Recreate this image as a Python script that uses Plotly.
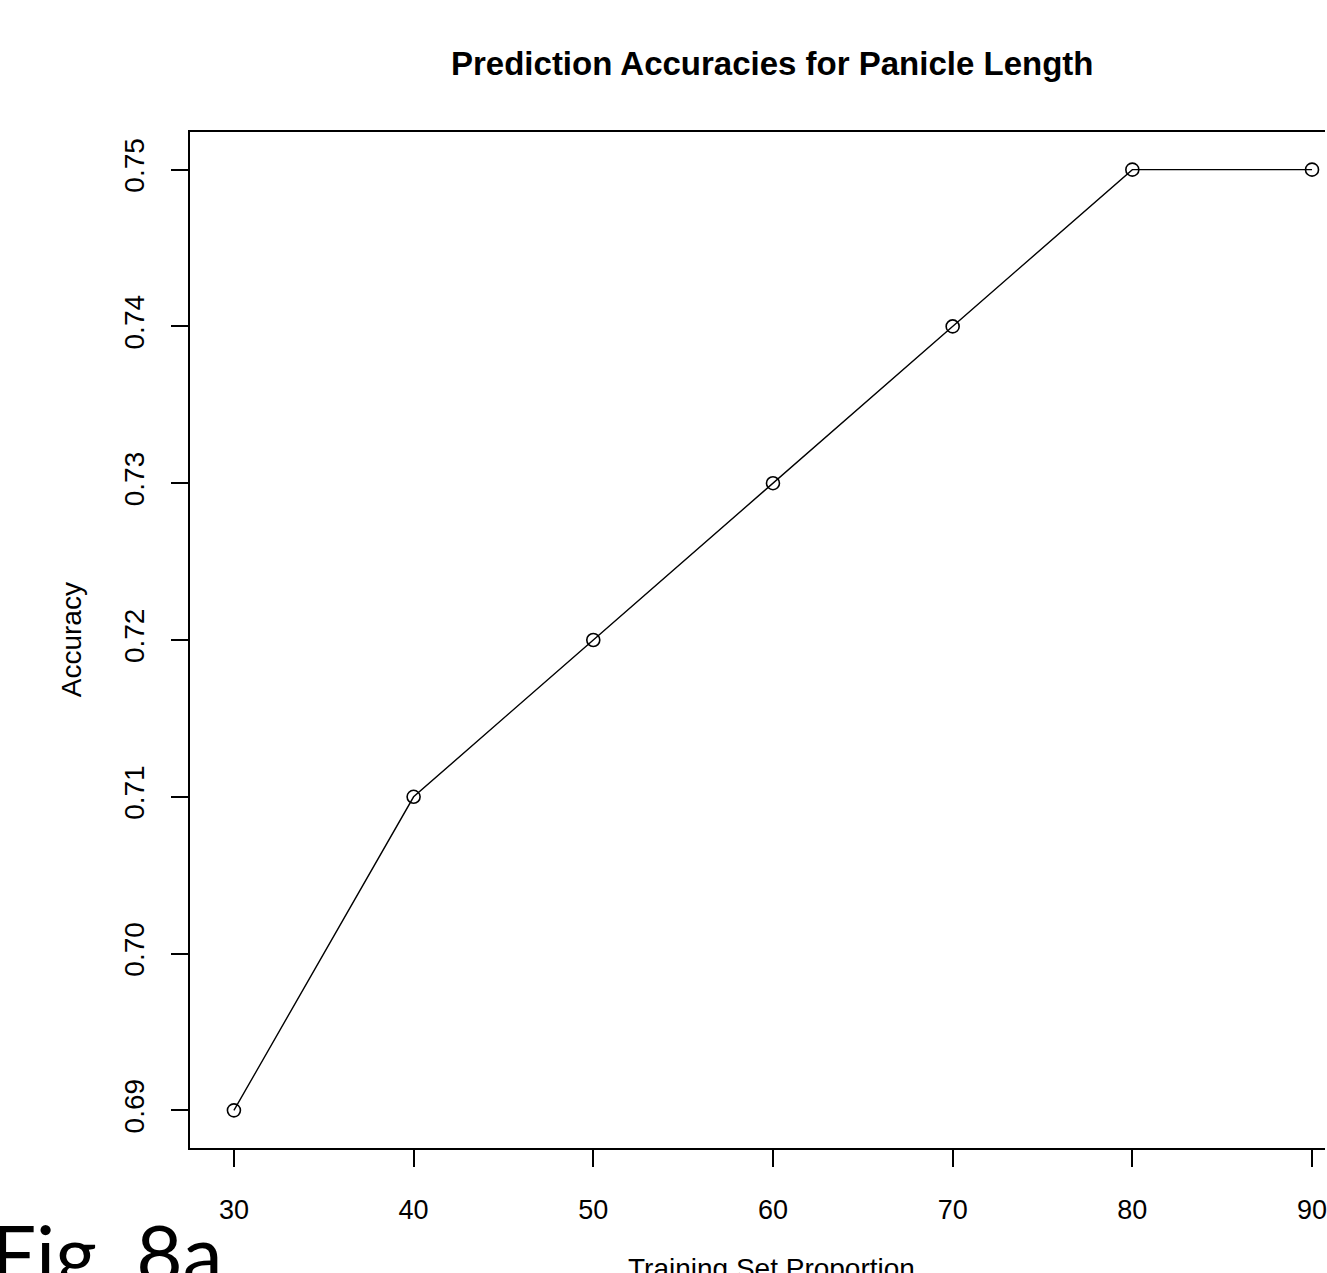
import plotly.graph_objects as go

training_proportion = [30, 40, 50, 60, 70, 80, 90]
accuracy = [0.69, 0.71, 0.72, 0.73, 0.74, 0.75, 0.75]
x_ticks = [30, 40, 50, 60, 70, 80, 90]
y_ticks = [0.69, 0.70, 0.71, 0.72, 0.73, 0.74, 0.75]
y_tick_text = ["0.69", "0.70", "0.71", "0.72", "0.73", "0.74", "0.75"]

W, H = 1327, 1273
L, R, T, B = 190, 0, 132, 125
pw, ph = W - L - R, H - T - B

def px_x(p):
    return (p - L) / pw

def px_y(p):
    return (H - B - p) / ph

FONT = "Liberation Sans, Arial, Helvetica, sans-serif"

fig = go.Figure()
fig.add_trace(go.Scatter(
    x=training_proportion, y=accuracy, mode="lines+markers",
    line=dict(color="black", width=1.4),
    marker=dict(symbol="circle-open", size=13, color="black", line=dict(width=1.6, color="black")),
    showlegend=False,
))

fig.update_layout(
    width=W, height=H,
    margin=dict(l=L, r=R, t=T, b=B, pad=0),
    paper_bgcolor="white", plot_bgcolor="white",
    font=dict(family=FONT, color="black"),
    xaxis=dict(
        range=[30 - 44 / 18, 90 + 13 / 18], tickmode="array", tickvals=x_ticks,
        ticks="outside", ticklen=17, tickwidth=1.5, tickcolor="black",
        showline=True, linecolor="black", linewidth=2, mirror=True,
        showgrid=False, zeroline=False, tickfont=dict(size=27, color="black"),
        ticklabelstandoff=20, ticklabeloverflow="allow",
    ),
    yaxis=dict(
        range=[0.6876, 0.7524], tickmode="array", tickvals=y_ticks, ticktext=y_tick_text,
        ticks="outside", ticklen=17, tickwidth=1.5, tickcolor="black",
        showline=True, linecolor="black", linewidth=2, mirror=False,
        showgrid=False, zeroline=False, tickfont=dict(size=28, color="black"),
        tickangle=-90, ticklabelstandoff=16, ticklabeloverflow="allow",
    ),
)

fig.add_annotation(text="<b>Prediction Accuracies for Panicle Length</b>",
                   xref="paper", yref="paper", x=px_x(773), y=px_y(64),
                   xanchor="center", yanchor="middle", showarrow=False,
                   font=dict(size=33, family=FONT, color="black"))
fig.add_annotation(text="Accuracy", xref="paper", yref="paper",
                   x=px_x(71), y=px_y(640), textangle=-90,
                   xanchor="center", yanchor="middle", showarrow=False,
                   font=dict(size=28, family=FONT, color="black"))
fig.add_annotation(text="Training Set Proportion", xref="paper", yref="paper",
                   x=px_x(773), y=px_y(1268),
                   xanchor="center", yanchor="middle", showarrow=False,
                   font=dict(size=28, family=FONT, color="black"))
fig.add_annotation(text="Fig. 8a", xref="paper", yref="paper",
                   x=px_x(224), y=px_y(1202),
                   xanchor="right", yanchor="top", showarrow=False,
                   font=dict(size=80, family="Lato, Open Sans, sans-serif", color="black"))

fig.write_html("out.html")
